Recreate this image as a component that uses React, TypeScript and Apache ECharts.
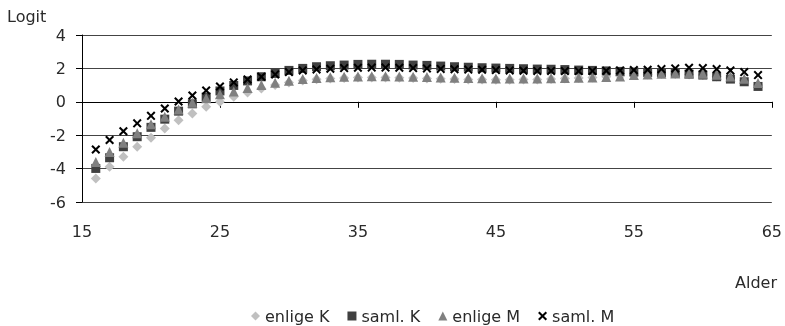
import React, { useEffect, useRef } from "react";
import * as echarts from "echarts";

const ages = [16, 17, 18, 19, 20, 21, 22, 23, 24, 25, 26, 27, 28, 29, 30, 31, 32, 33, 34, 35, 36, 37, 38, 39, 40, 41, 42, 43, 44, 45, 46, 47, 48, 49, 50, 51, 52, 53, 54, 55, 56, 57, 58, 59, 60, 61, 62, 63, 64];

const enligeK = [-4.59, -3.89, -3.29, -2.69, -2.15, -1.6, -1.1, -0.7, -0.3, 0.0, 0.3, 0.55, 0.8, 1.0, 1.15, 1.27, 1.35, 1.4, 1.43, 1.45, 1.45, 1.45, 1.44, 1.42, 1.4, 1.38, 1.36, 1.34, 1.33, 1.32, 1.32, 1.33, 1.34, 1.36, 1.39, 1.42, 1.46, 1.5, 1.55, 1.6, 1.64, 1.66, 1.66, 1.64, 1.6, 1.52, 1.42, 1.28, 1.0];

const samlK = [-3.99, -3.35, -2.69, -2.09, -1.53, -1.04, -0.56, -0.12, 0.28, 0.65, 0.98, 1.25, 1.5, 1.7, 1.88, 2.0, 2.1, 2.16, 2.2, 2.24, 2.25, 2.25, 2.24, 2.2, 2.18, 2.14, 2.1, 2.07, 2.04, 2.02, 2.0, 1.98, 1.96, 1.95, 1.93, 1.9, 1.88, 1.85, 1.82, 1.78, 1.76, 1.74, 1.72, 1.66, 1.6, 1.5, 1.36, 1.2, 0.92];

const enligeM = [-3.6, -3.0, -2.45, -1.88, -1.35, -0.9, -0.46, -0.06, 0.22, 0.45, 0.62, 0.82, 1.0, 1.14, 1.26, 1.36, 1.42, 1.47, 1.5, 1.52, 1.53, 1.53, 1.52, 1.5, 1.48, 1.46, 1.44, 1.42, 1.41, 1.4, 1.4, 1.4, 1.4, 1.41, 1.42, 1.44, 1.46, 1.49, 1.52, 1.6, 1.64, 1.68, 1.7, 1.7, 1.68, 1.62, 1.52, 1.38, 1.12];

const samlM = [-2.86, -2.29, -1.76, -1.29, -0.84, -0.4, 0.02, 0.38, 0.68, 0.92, 1.16, 1.34, 1.5, 1.64, 1.78, 1.88, 1.94, 1.98, 2.02, 2.04, 2.05, 2.05, 2.04, 2.02, 2.0, 1.97, 1.95, 1.93, 1.92, 1.9, 1.88, 1.86, 1.85, 1.85, 1.84, 1.84, 1.85, 1.86, 1.88, 1.9, 1.92, 1.96, 2.0, 2.04, 2.02, 1.96, 1.88, 1.78, 1.6];

const xTicks = [15, 25, 35, 45, 55, 65];
const yTicks = [-6, -4, -2, 0, 2, 4];

const seriesNames = ["enlige K", "saml. K", "enlige M", "saml. M"];

const FONT = "DejaVu Sans";
const FS = 16;
const TEXT = "#2a2a2a";
const CROSS = "path://M1.6,0 L5,3.4 L8.4,0 L10,1.6 L6.6,5 L10,8.4 L8.4,10 L5,6.6 L1.6,10 L0,8.4 L3.4,5 L0,1.6 Z";

export default function App() {
  const ref = useRef<HTMLDivElement>(null);
  useEffect(() => {
    if (!ref.current) return;
    const chart = echarts.init(ref.current, undefined, { renderer: "svg" });
    const pairs = (vals: number[]) => ages.map((a, i) => [a, vals[i]]);
    const mk = (name: string, vals: number[], symbol: string, size: number, color: string) => ({
      name,
      type: "scatter",
      xAxisIndex: 0,
      yAxisIndex: 0,
      symbol,
      symbolSize: size,
      itemStyle: { color, opacity: 1 },
      data: pairs(vals),
    });
    chart.setOption({
      animation: false,
      textStyle: { fontFamily: FONT, color: TEXT },
      grid: { left: 82, right: 13, top: 35, bottom: 124 },
      xAxis: [
        {
          type: "value",
          min: xTicks[0],
          max: xTicks[xTicks.length - 1],
          interval: 10,
          position: "bottom",
          axisLine: { show: false, onZero: false },
          axisTick: { show: false },
          splitLine: { show: false },
          axisLabel: { margin: 21, fontSize: FS, color: TEXT, fontFamily: FONT },
        },
        {
          type: "value",
          min: xTicks[0],
          max: xTicks[xTicks.length - 1],
          interval: 10,
          position: "bottom",
          axisLine: { show: true, onZero: true, lineStyle: { color: "#000", width: 1 } },
          axisTick: { show: true, inside: false, length: 6, lineStyle: { color: "#000" } },
          splitLine: { show: false },
          axisLabel: { show: false },
        },
      ],
      yAxis: {
        type: "value",
        min: yTicks[0],
        max: yTicks[yTicks.length - 1],
        interval: 2,
        axisLine: { show: true, lineStyle: { color: "#000", width: 1 } },
        axisTick: { show: true, length: 6, lineStyle: { color: "#000" } },
        splitLine: { show: true, lineStyle: { color: "#444", width: 1 } },
        axisLabel: { margin: 16, fontSize: FS, color: TEXT, fontFamily: FONT },
      },
      legend: {
        data: seriesNames,
        left: 246,
        top: 303,
        itemWidth: 9,
        itemHeight: 9,
        itemGap: 18,
        textStyle: { fontSize: FS, color: TEXT, fontFamily: FONT },
      },
      graphic: [
        { type: "text", left: 7, top: 8, style: { text: "Logit", font: `${FS}px "${FONT}"`, fill: TEXT } },
        { type: "text", right: 8, top: 274, style: { text: "Alder", font: `${FS}px "${FONT}"`, fill: TEXT } },
      ],
      series: [
        mk(seriesNames[0], enligeK, "diamond", 10, "#c0c0c0"),
        mk(seriesNames[1], samlK, "rect", 9, "#404040"),
        mk(seriesNames[2], enligeM, "triangle", 10, "#808080"),
        mk(seriesNames[3], samlM, CROSS, 9, "#000000"),
      ],
    });
    return () => chart.dispose();
  }, []);
  return <div ref={ref} style={{ position: "fixed", left: 0, top: 0, width: 785, height: 326 }} />;
}
